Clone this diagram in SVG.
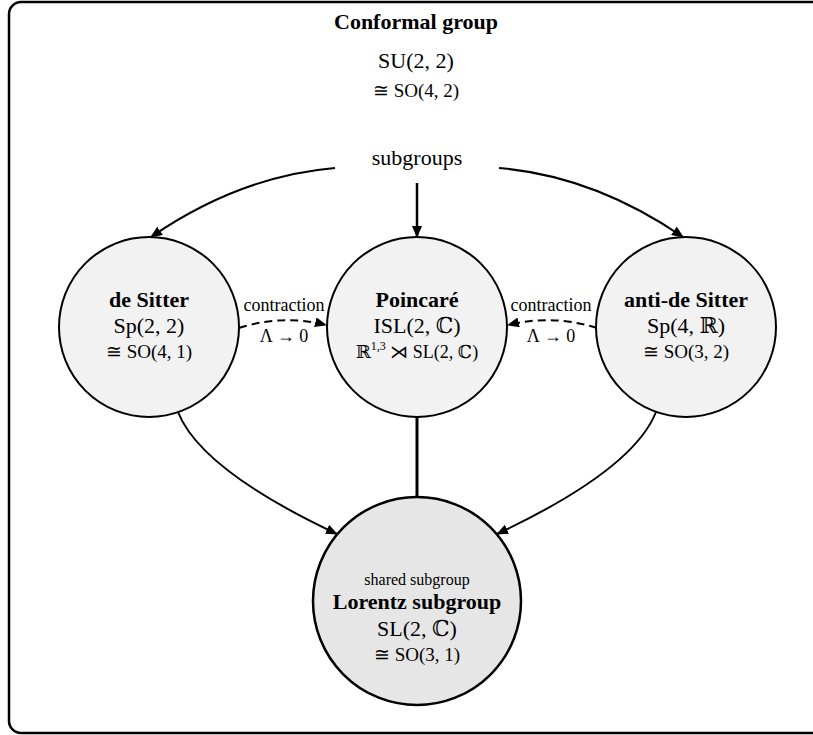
<svg xmlns="http://www.w3.org/2000/svg" width="813" height="735" viewBox="0 0 813 735">
<defs>
<marker id="ah" viewBox="0 0 12 10" refX="11" refY="5" markerWidth="12" markerHeight="10" markerUnits="userSpaceOnUse" orient="auto">
<path d="M0,0 L12,5 L0,10 Z" fill="#000"/>
</marker>
<style>
text{font-family:"Liberation Serif","DejaVu Serif",serif;fill:#000;text-anchor:middle}
.t{font-weight:bold;font-size:22px}
.m{font-size:22px}
.s{font-size:19px}
.c{font-size:18px}
.node{fill:#f2f2f2;stroke:#000;stroke-width:2}
.lor{fill:#e6e6e6;stroke:#000;stroke-width:2.5}
.e{fill:none;stroke:#000;stroke-width:2}
.d{fill:none;stroke:#000;stroke-width:2;stroke-dasharray:8 5}
</style>
</defs>
<rect x="9" y="2" width="840" height="731" rx="12" fill="#fff" stroke="#000" stroke-width="2.5"/>
<g id="conformal">
<text class="t" x="416" y="29">Conformal group</text>
<text class="m" x="416" y="68">SU(2, 2)</text>
<text class="s" x="416" y="97">≅ SO(4, 2)</text>
<text class="m" x="417" y="165">subgroups</text>
</g>
<g id="connectors">
<path class="e" d="M335,168 Q240,176 151,237" marker-end="url(#ah)"/>
<path class="e" d="M499,168 Q594,176 683,237" marker-end="url(#ah)"/>
<path class="e" d="M417,183 L417,237" style="stroke-width:2.5" marker-end="url(#ah)"/>
<path class="e" d="M178,412 Q201,470 337,534" marker-end="url(#ah)"/>
<path class="e" d="M656,412 Q633,470 497,534" marker-end="url(#ah)"/>
<path class="e" d="M417,417 L417,497" style="stroke-width:3"/>
<path class="d" d="M239,328 Q283,314 326,325" marker-end="url(#ah)"/>
<path class="d" d="M597,328 Q552,314 508,325" marker-end="url(#ah)"/>
<text class="c" x="284" y="311">contraction</text>
<text class="c" x="284" y="342">Λ → 0</text>
<text class="c" x="551" y="311">contraction</text>
<text class="c" x="551" y="342">Λ → 0</text>
</g>
<g id="desitter">
<circle class="node" cx="149" cy="327" r="90"/>
<text class="t" x="149" y="307">de Sitter</text>
<text class="m" x="149" y="333">Sp(2, 2)</text>
<text class="s" x="149" y="358">≅ SO(4, 1)</text>
</g>
<g id="poincare">
<circle class="node" cx="417" cy="327" r="90"/>
<text class="t" x="417" y="307">Poincaré</text>
<text class="m" x="417" y="333">ISL(2, ℂ)</text>
<text class="c" x="417" y="358">ℝ<tspan font-size="12" dy="-8">1,3</tspan><tspan dy="8"> ⋊ SL(2, ℂ)</tspan></text>
</g>
<g id="antidesitter">
<circle class="node" cx="686" cy="327" r="90"/>
<text class="t" x="686" y="307">anti-de Sitter</text>
<text class="m" x="686" y="333">Sp(4, ℝ)</text>
<text class="s" x="686" y="358">≅ SO(3, 2)</text>
</g>
<g id="lorentz">
<circle class="lor" cx="417" cy="601" r="104"/>
<text x="417" y="585" style="font-size:16px">shared subgroup</text>
<text class="t" x="417" y="609">Lorentz subgroup</text>
<text class="m" x="417" y="636">SL(2, ℂ)</text>
<text class="s" x="417" y="661">≅ SO(3, 1)</text>
</g>
</svg>
